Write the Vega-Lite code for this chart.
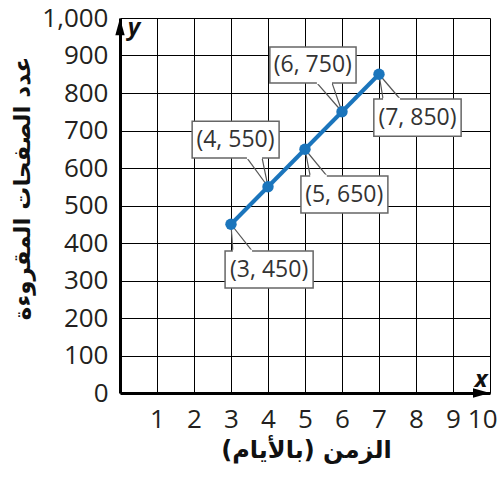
{
  "$schema": "https://vega.github.io/schema/vega-lite/v6.json",
  "width": 370,
  "height": 375,
  "autosize": "none",
  "padding": {"left": 120, "top": 18, "right": 9, "bottom": 84},
  "background": "white",
  "config": {
    "view": {"stroke": null},
    "axis": {
      "grid": true,
      "gridColor": "#000000",
      "gridOpacity": 1,
      "gridWidth": 1,
      "domain": true,
      "domainColor": "#000000",
      "domainWidth": 3,
      "ticks": false,
      "labelFont": "Open Sans",
      "labelColor": "#231f20",
      "labelOverlap": false,
      "titleFont": "DejaVu Sans",
      "titleFontWeight": "bold",
      "titleColor": "#111111",
      "titleAlign": "center",
      "titleBaseline": "middle"
    },
    "axisX": {
      "labelFontSize": 26,
      "labelPadding": 13,
      "labelFlush": true,
      "labelFlushOffset": 7,
      "titleFontSize": 24,
      "titleX": 186,
      "titleY": 57
    },
    "axisY": {
      "labelFontSize": 26,
      "labelPadding": 12,
      "labelFlush": false,
      "titleFontSize": 23,
      "titleAngle": -90,
      "titleX": -98,
      "titleY": 170
    }
  },
  "datasets": {
    "points": [
      {"x": 3, "y": 450},
      {"x": 4, "y": 550},
      {"x": 5, "y": 650},
      {"x": 6, "y": 750},
      {"x": 7, "y": 850}
    ],
    "boxes": [
      {"label": "(3, 450)", "x1": 2.84, "x2": 5.22, "y1": 280, "y2": 379, "lx": 4.03, "ly": 329},
      {"label": "(4, 550)", "x1": 1.95, "x2": 4.30, "y1": 627, "y2": 725, "lx": 3.12, "ly": 676},
      {"label": "(5, 650)", "x1": 4.89, "x2": 7.24, "y1": 480, "y2": 579, "lx": 6.06, "ly": 529},
      {"label": "(6, 750)", "x1": 4.05, "x2": 6.38, "y1": 827, "y2": 923, "lx": 5.21, "ly": 875},
      {"label": "(7, 850)", "x1": 6.86, "x2": 9.22, "y1": 685, "y2": 784, "lx": 8.04, "ly": 734}
    ],
    "tails": [
      {"x": 3, "y": 450, "bx1": 3.05, "bx2": 3.57, "by": 379},
      {"x": 4, "y": 550, "bx1": 3.43, "bx2": 3.84, "by": 627},
      {"x": 5, "y": 650, "bx1": 5.14, "bx2": 5.59, "by": 579},
      {"x": 6, "y": 750, "bx1": 5.32, "bx2": 5.73, "by": 827},
      {"x": 7, "y": 850, "bx1": 7.11, "bx2": 7.57, "by": 784}
    ],
    "one": [{}]
  },
  "layer": [
    {
      "data": {"name": "tails"},
      "mark": {"type": "rule", "color": "#555555", "strokeWidth": 1.2},
      "encoding": {
        "x": {"field": "x", "type": "quantitative", "scale": {"domain": [0, 10], "nice": false, "zero": false},
          "axis": {"values": [1, 2, 3, 4, 5, 6, 7, 8, 9, 10], "format": "d", "title": "الزمن (بالأيام)\u200f"}},
        "y": {"field": "y", "type": "quantitative", "scale": {"domain": [0, 1000], "nice": false, "zero": false},
          "axis": {"values": [0, 100, 200, 300, 400, 500, 600, 700, 800, 900, 1000], "format": ",d", "title": "عدد الصفحات المقروءة"}},
        "x2": {"field": "bx1"},
        "y2": {"field": "by"}
      }
    },
    {
      "data": {"name": "tails"},
      "mark": {"type": "rule", "color": "#555555", "strokeWidth": 1.2},
      "encoding": {
        "x": {"field": "x", "type": "quantitative",
          "axis": {"values": [1, 2, 3, 4, 5, 6, 7, 8, 9, 10], "format": "d", "title": "الزمن (بالأيام)\u200f"}},
        "y": {"field": "y", "type": "quantitative",
          "axis": {"values": [0, 100, 200, 300, 400, 500, 600, 700, 800, 900, 1000], "format": ",d", "title": "عدد الصفحات المقروءة"}},
        "x2": {"field": "bx2"},
        "y2": {"field": "by"}
      }
    },
    {
      "data": {"name": "points"},
      "mark": {"type": "line", "color": "#1b75bc", "strokeWidth": 4},
      "encoding": {
        "x": {"field": "x", "type": "quantitative",
          "axis": {"values": [1, 2, 3, 4, 5, 6, 7, 8, 9, 10], "format": "d", "title": "الزمن (بالأيام)\u200f"}},
        "y": {"field": "y", "type": "quantitative",
          "axis": {"values": [0, 100, 200, 300, 400, 500, 600, 700, 800, 900, 1000], "format": ",d", "title": "عدد الصفحات المقروءة"}}
      }
    },
    {
      "data": {"name": "points"},
      "mark": {"type": "point", "filled": true, "color": "#1b75bc", "opacity": 1, "size": 130},
      "encoding": {
        "x": {"field": "x", "type": "quantitative",
          "axis": {"values": [1, 2, 3, 4, 5, 6, 7, 8, 9, 10], "format": "d", "title": "الزمن (بالأيام)\u200f"}},
        "y": {"field": "y", "type": "quantitative",
          "axis": {"values": [0, 100, 200, 300, 400, 500, 600, 700, 800, 900, 1000], "format": ",d", "title": "عدد الصفحات المقروءة"}}
      }
    },
    {
      "data": {"name": "boxes"},
      "mark": {"type": "rect", "fill": "white", "stroke": "#666666", "strokeWidth": 1.5},
      "encoding": {
        "x": {"field": "x1", "type": "quantitative",
          "axis": {"values": [1, 2, 3, 4, 5, 6, 7, 8, 9, 10], "format": "d", "title": "الزمن (بالأيام)\u200f"}},
        "x2": {"field": "x2"},
        "y": {"field": "y1", "type": "quantitative",
          "axis": {"values": [0, 100, 200, 300, 400, 500, 600, 700, 800, 900, 1000], "format": ",d", "title": "عدد الصفحات المقروءة"}},
        "y2": {"field": "y2"}
      }
    },
    {
      "data": {"name": "tails"},
      "mark": {"type": "rule", "color": "white", "strokeWidth": 2.5},
      "encoding": {
        "x": {"field": "bx1", "type": "quantitative",
          "axis": {"values": [1, 2, 3, 4, 5, 6, 7, 8, 9, 10], "format": "d", "title": "الزمن (بالأيام)\u200f"}},
        "x2": {"field": "bx2"},
        "y": {"field": "by", "type": "quantitative",
          "axis": {"values": [0, 100, 200, 300, 400, 500, 600, 700, 800, 900, 1000], "format": ",d", "title": "عدد الصفحات المقروءة"}}
      }
    },
    {
      "data": {"name": "boxes"},
      "mark": {"type": "text", "font": "Open Sans", "fontSize": 23, "color": "#333333", "align": "center", "baseline": "middle"},
      "encoding": {
        "x": {"field": "lx", "type": "quantitative",
          "axis": {"values": [1, 2, 3, 4, 5, 6, 7, 8, 9, 10], "format": "d", "title": "الزمن (بالأيام)\u200f"}},
        "y": {"field": "ly", "type": "quantitative",
          "axis": {"values": [0, 100, 200, 300, 400, 500, 600, 700, 800, 900, 1000], "format": ",d", "title": "عدد الصفحات المقروءة"}},
        "text": {"field": "label"}
      }
    },
    {
      "data": {"name": "one"},
      "mark": {"type": "point", "shape": "M0,-1L0.55,1L-0.55,1Z", "filled": true, "color": "#000000", "opacity": 1, "size": 289},
      "encoding": {
        "x": {"datum": 0, "type": "quantitative",
          "axis": {"values": [1, 2, 3, 4, 5, 6, 7, 8, 9, 10], "format": "d", "title": "الزمن (بالأيام)\u200f"}},
        "y": {"datum": 977, "type": "quantitative",
          "axis": {"values": [0, 100, 200, 300, 400, 500, 600, 700, 800, 900, 1000], "format": ",d", "title": "عدد الصفحات المقروءة"}}
      }
    },
    {
      "data": {"name": "one"},
      "mark": {"type": "point", "shape": "M1,0L-1,0.55L-1,-0.55Z", "filled": true, "color": "#000000", "opacity": 1, "size": 289},
      "encoding": {
        "x": {"datum": 9.77, "type": "quantitative",
          "axis": {"values": [1, 2, 3, 4, 5, 6, 7, 8, 9, 10], "format": "d", "title": "الزمن (بالأيام)\u200f"}},
        "y": {"datum": 0, "type": "quantitative",
          "axis": {"values": [0, 100, 200, 300, 400, 500, 600, 700, 800, 900, 1000], "format": ",d", "title": "عدد الصفحات المقروءة"}}
      }
    },
    {
      "data": {"name": "one"},
      "mark": {"type": "text", "text": "y", "font": "Open Sans", "fontStyle": "italic", "fontWeight": "bold", "fontSize": 24, "color": "#111111", "align": "center", "baseline": "middle"},
      "encoding": {
        "x": {"datum": 0.38, "type": "quantitative",
          "axis": {"values": [1, 2, 3, 4, 5, 6, 7, 8, 9, 10], "format": "d", "title": "الزمن (بالأيام)\u200f"}},
        "y": {"datum": 974, "type": "quantitative",
          "axis": {"values": [0, 100, 200, 300, 400, 500, 600, 700, 800, 900, 1000], "format": ",d", "title": "عدد الصفحات المقروءة"}}
      }
    },
    {
      "data": {"name": "one"},
      "mark": {"type": "text", "text": "x", "font": "Open Sans", "fontStyle": "italic", "fontWeight": "bold", "fontSize": 24, "color": "#111111", "align": "center", "baseline": "middle"},
      "encoding": {
        "x": {"datum": 9.76, "type": "quantitative",
          "axis": {"values": [1, 2, 3, 4, 5, 6, 7, 8, 9, 10], "format": "d", "title": "الزمن (بالأيام)\u200f"}},
        "y": {"datum": 36, "type": "quantitative",
          "axis": {"values": [0, 100, 200, 300, 400, 500, 600, 700, 800, 900, 1000], "format": ",d", "title": "عدد الصفحات المقروءة"}}
      }
    }
  ]
}
